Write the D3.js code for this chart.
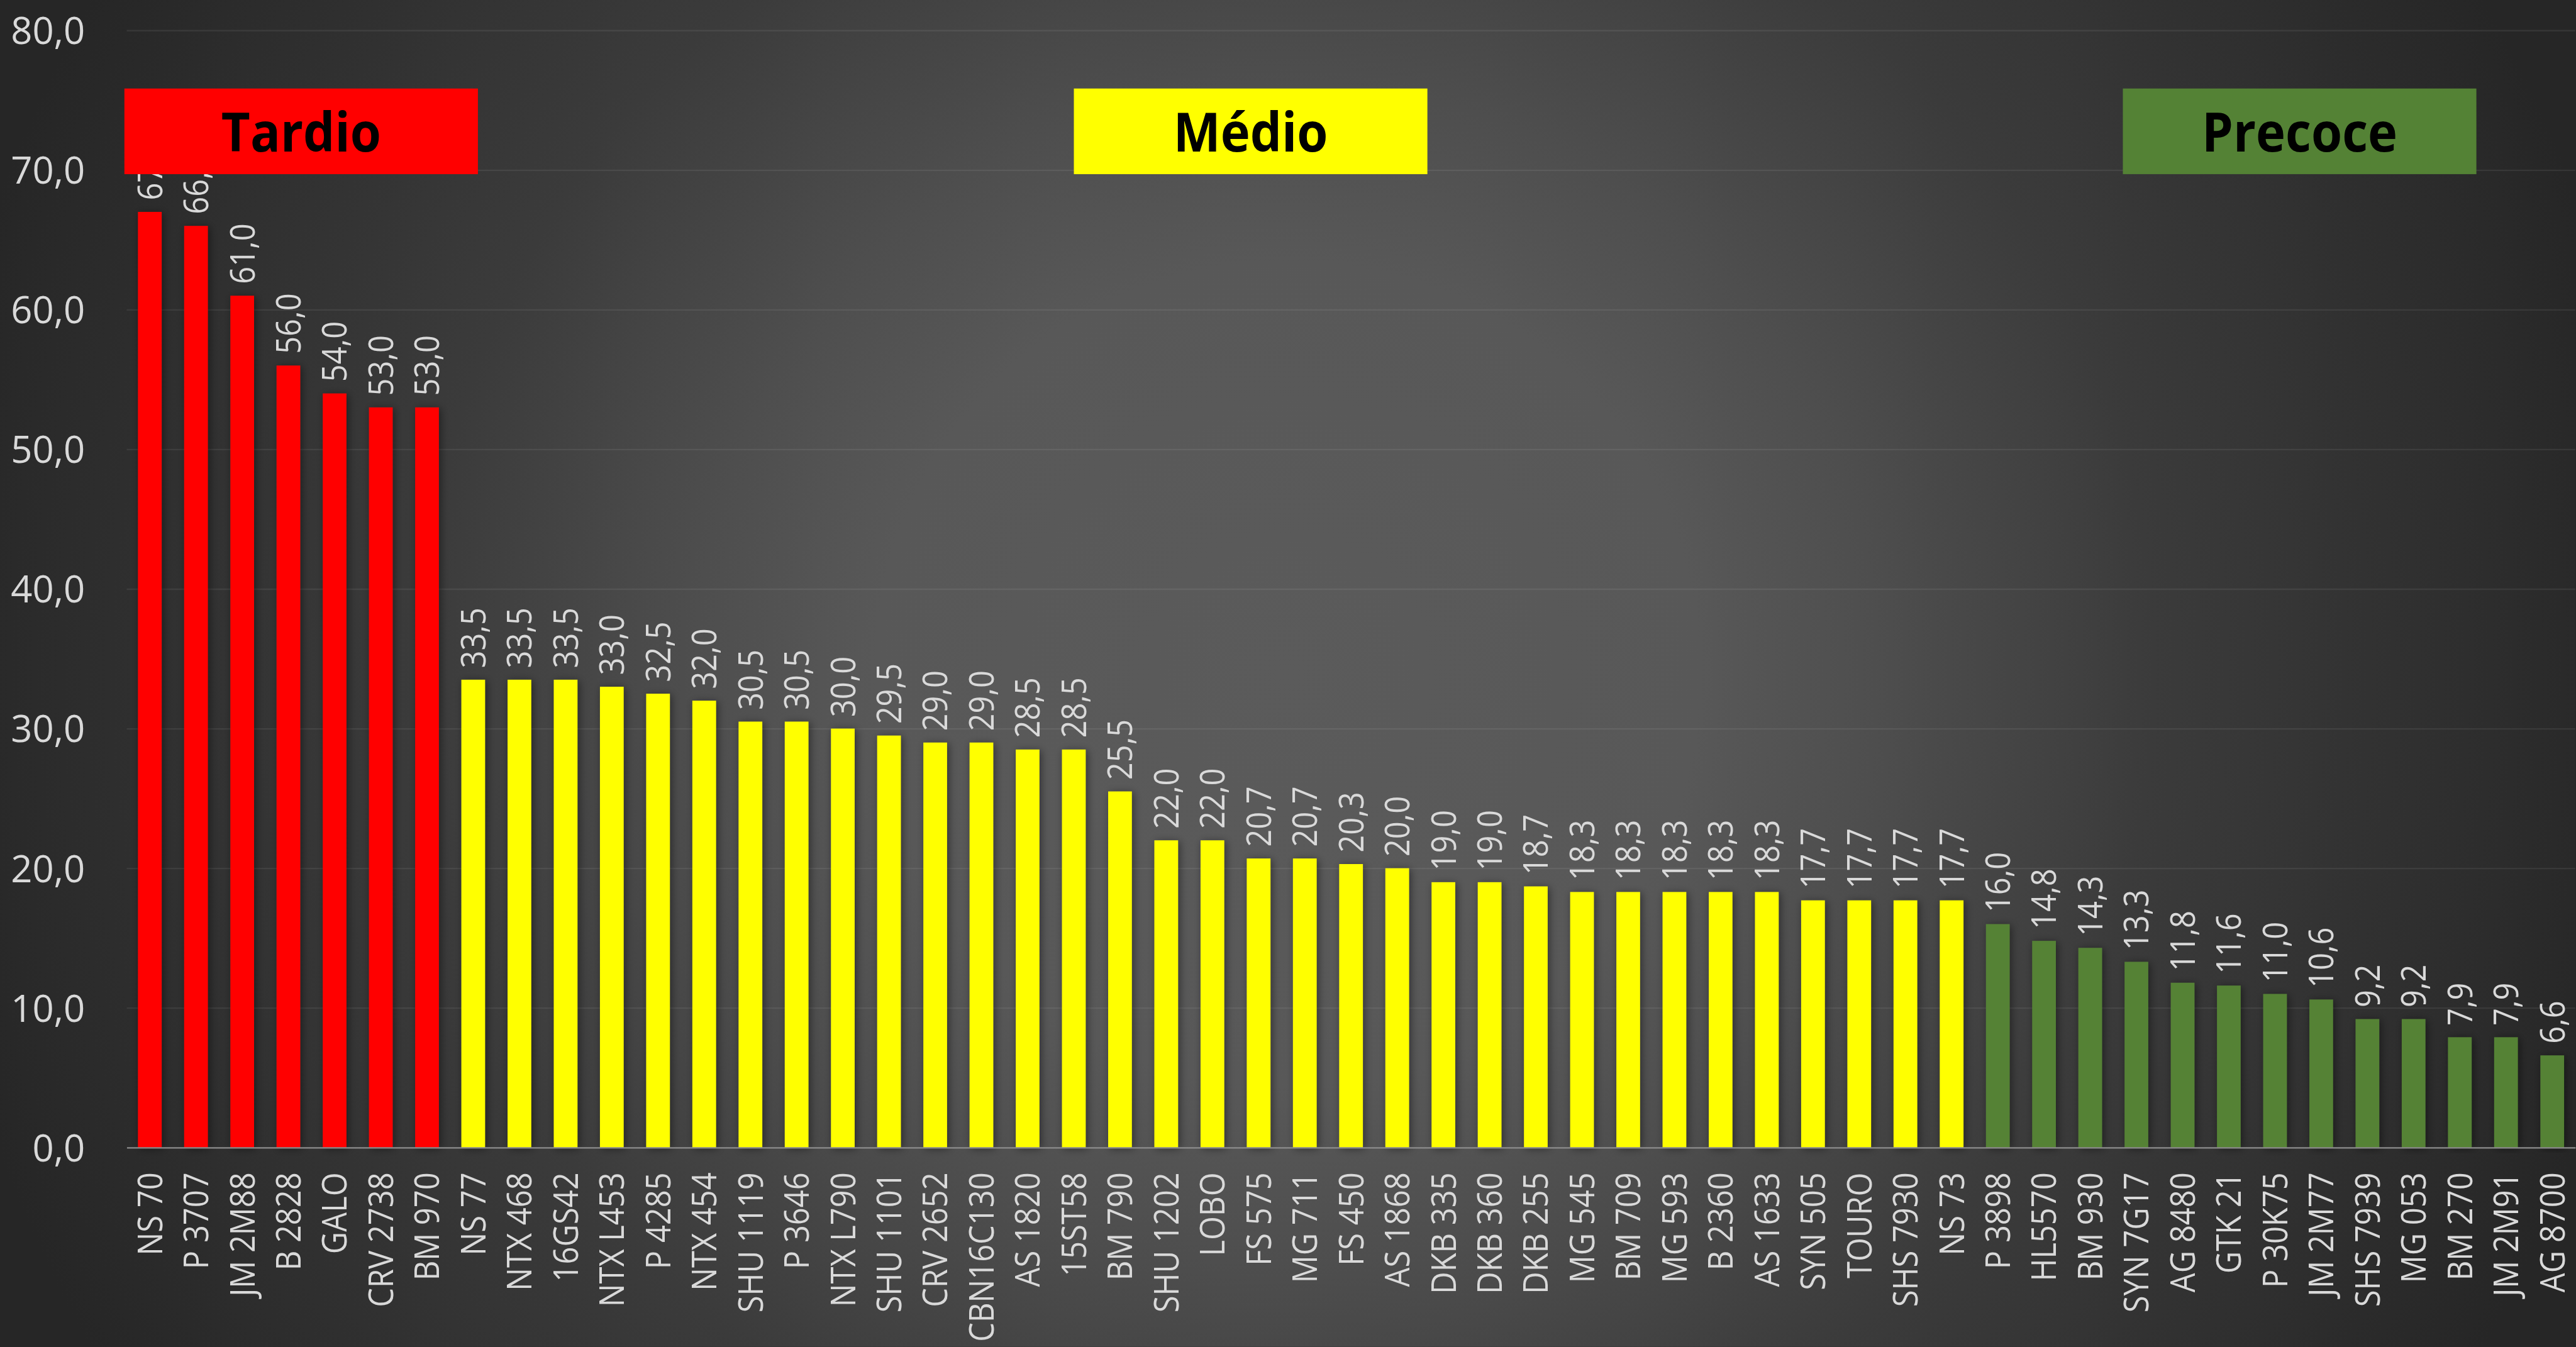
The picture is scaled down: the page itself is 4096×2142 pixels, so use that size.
<!DOCTYPE html>
<html>
<head>
<meta charset="utf-8">
<script src="https://cdn.jsdelivr.net/npm/d3@7"></script>
<style>
body{margin:0;background:#262626;overflow:hidden}
text{font-family:"Open Sans",sans-serif}
</style>
</head>
<body>
<svg id="chart" width="4096" height="2142"></svg>
<script>
var categories = ["NS 70","P 3707","JM 2M88","B 2828","GALO","CRV 2738","BM 970",
	"NS 77","NTX 468","16GS42","NTX L453","P 4285","NTX 454","SHU 1119","P 3646","NTX L790","SHU 1101",
	"CRV 2652","CBN16C130","AS 1820","15ST58","BM 790","SHU 1202","LOBO","FS 575","MG 711","FS 450",
	"AS 1868","DKB 335","DKB 360","DKB 255","MG 545","BM 709","MG 593","B 2360","AS 1633","SYN 505",
	"TOURO","SHS 7930","NS 73",
	"P 3898","HL5570","BM 930","SYN 7G17","AG 8480","GTK 21","P 30K75","JM 2M77","SHS 7939","MG 053",
	"BM 270","JM 2M91","AG 8700"];
var values = [67.0,66.0,61.0,56.0,54.0,53.0,53.0,
	33.5,33.5,33.5,33.0,32.5,32.0,30.5,30.5,30.0,29.5,
	29.0,29.0,28.5,28.5,25.5,22.0,22.0,20.7,20.7,20.3,
	20.0,19.0,19.0,18.7,18.3,18.3,18.3,18.3,18.3,17.7,
	17.7,17.7,17.7,
	16.0,14.8,14.3,13.3,11.8,11.6,11.0,10.6,9.2,9.2,
	7.9,7.9,6.6];
var groupNames = ["Tardio","Médio","Precoce"];
var groupColors = ["#ff0000","#ffff00","#548235"];
var groupSizes = [7,33,13];
var yTicks = [0,10,20,30,40,50,60,70,80];

// everything is laid out in reference pixels, then scaled down
var K = 0.92
var W = 4451, H = 2328
var plotLeft = 219, plotBase = 1983.5, plotTop = 52.5
var boxLeft = [215,1856,3669], boxTop = 153, boxW = 611, boxH = 148

var svg = d3.select("#chart")
var defs = svg.append("defs")

var grad = defs.append("radialGradient")
	.attr("id","bg")
	.attr("gradientUnits","userSpaceOnUse")
	.attr("cx",2225).attr("cy",1164).attr("r",2376)
var stops = [[0,"#5b5b5b"],[0.3,"#585858"],[0.43,"#4e4e4e"],[0.63,"#3b3b3b"],[0.84,"#2f2f2f"],[1,"#262626"]]
stops.forEach(function(s){
	grad.append("stop").attr("offset",s[0]).attr("stop-color",s[1])
})

var shadow = defs.append("filter")
	.attr("id","shadow")
	.attr("x","-60%").attr("y","-5%").attr("width","220%").attr("height","110%")
shadow.append("feDropShadow")
	.attr("dx",3).attr("dy",2)
	.attr("stdDeviation",7)
	.attr("flood-color","#000")
	.attr("flood-opacity",0.45)

var g = svg.append("g").attr("transform","scale(" + K + ")")

g.append("rect")
	.attr("width",W)
	.attr("height",H)
	.attr("fill","url(#bg)")

var x = d3.scaleBand()
	.domain(categories)
	.range([plotLeft, W])
	.paddingInner(0.487)
	.paddingOuter(0.2435)
var y = d3.scaleLinear()
	.domain([0,80])
	.range([plotBase, plotTop])

var groupOf = []
groupSizes.forEach(function(n, i){
	for(var j = 0; j < n; j++) groupOf.push(i)
})

function fmt(v){
	return d3.format(".1f")(v).replace(".",",")
}

// gridlines
var grid = g.append("g")
	.attr("transform","translate(" + plotLeft + ",0)")
	.call(d3.axisLeft(y).tickValues(yTicks.slice(1)).tickSize(-(W - plotLeft)).tickFormat(""))
grid.select(".domain").remove()
grid.selectAll("line")
	.attr("stroke","#fff")
	.attr("stroke-opacity",0.07)
	.attr("stroke-width",2.5)

// y axis labels
var yAxis = g.append("g")
	.attr("transform","translate(" + plotLeft + ",0)")
	.call(d3.axisLeft(y).tickValues(yTicks).tickSize(0).tickPadding(72).tickFormat(fmt))
yAxis.select(".domain").remove()
yAxis.selectAll("text")
	.attr("dy","0.357em")
	.attr("fill","#d9d9d9")
	.style("font-family","'Open Sans'")
	.style("font-size","65px")

// bars
var data = categories.map(function(c, i){
	return {name: c, value: values[i], group: groupOf[i]}
})

g.append("g")
	.selectAll("rect")
	.data(data)
	.join("rect")
	.attr("x",function(d){ return x(d.name) })
	.attr("y",function(d){ return y(d.value) })
	.attr("width",x.bandwidth())
	.attr("height",function(d){ return y(0) - y(d.value) })
	.attr("fill",function(d){ return groupColors[d.group] })
	.attr("filter","url(#shadow)")

// x axis
var xAxis = g.append("g")
	.attr("transform","translate(0," + plotBase + ")")
	.call(d3.axisBottom(x).tickSize(0).tickSizeOuter(0))
xAxis.select(".domain")
	.attr("stroke","#8c8c8c")
	.attr("stroke-width",2.5)
xAxis.selectAll("text")
	.attr("x",0)
	.attr("y",0)
	.attr("dy","0.357em")
	.attr("text-anchor","end")
	.attr("transform","translate(0,43) rotate(-90) scale(0.9,1)")
	.attr("fill","#d9d9d9")
	.style("font-family","'Open Sans'")
	.style("font-size","59px")

// value labels
g.append("g")
	.selectAll("text")
	.data(data)
	.join("text")
	.attr("transform",function(d){
		return "translate(" + (x(d.name) + x.bandwidth() / 2) + "," + (y(d.value) - 20) + ") rotate(-90) scale(0.9,1)"
	})
	.attr("dy","0.357em")
	.attr("text-anchor","start")
	.attr("fill","#d9d9d9")
	.attr("font-size",59)
	.text(function(d){ return fmt(d.value) })

// group boxes
var boxes = g.append("g")
	.selectAll("g")
	.data(groupNames)
	.join("g")
	.attr("transform",function(d, i){ return "translate(" + boxLeft[i] + "," + boxTop + ")" })
boxes.append("rect")
	.attr("width",boxW)
	.attr("height",boxH)
	.attr("fill",function(d, i){ return groupColors[i] })
boxes.append("text")
	.attr("transform","translate(" + (boxW / 2) + ",109) scale(0.92,1)")
	.attr("text-anchor","middle")
	.attr("font-weight","bold")
	.attr("font-size",94)
	.attr("fill","#000")
	.text(function(d){ return d })
</script>
</body>
</html>
